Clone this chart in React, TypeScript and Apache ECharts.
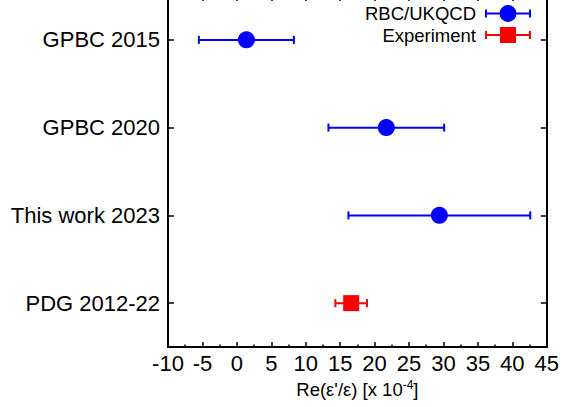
import React, { useEffect, useRef } from "react";
import * as echarts from "echarts";

const categories = ["GPBC 2015", "GPBC 2020", "This work 2023", "PDG 2012-22"];
const rbcCategoryIndex = [0, 1, 2];
const rbcValues = [1.38, 21.7, 29.4];
const rbcErrors = [6.9, 8.4, 13.2];
const expCategoryIndex = [3];
const expValues = [16.6];
const expErrors = [2.3];
const xTicks = { min: -10, max: 45, step: 5 };

const FONT = "'Liberation Sans', Arial, Helvetica, sans-serif";
const SHIFT = 10;

const rbcIcon =
  "path://M0,7.5H46V9.5H0Z M0,4.5H2V12.5H0Z M44,4.5H46V12.5H44Z M14.5,8.5A8.5,8.5 0 1,1 31.5,8.5A8.5,8.5 0 1,1 14.5,8.5Z";
const expIcon =
  "path://M0,7.5H46V9.5H0Z M0,4.5H2V12.5H0Z M44,4.5H46V12.5H44Z M15,0.5H31V16.5H15Z M0,0H0.01V17H0Z";

function makeRender(kind: "circle" | "square") {
  return (params: any, api: any) => {
    const v = api.value(0);
    const y = api.value(1);
    const lo = api.value(2);
    const hi = api.value(3);
    const c = api.coord([v, y]);
    const l = api.coord([lo, y]);
    const h = api.coord([hi, y]);
    const color = api.visual("color");
    const cap = 4;
    const ls = { stroke: color, lineWidth: 2 };
    const marker =
      kind === "circle"
        ? { type: "circle", shape: { cx: c[0], cy: c[1], r: 8.5 }, style: { fill: color } }
        : { type: "rect", shape: { x: c[0] - 8, y: c[1] - 8, width: 16, height: 16 }, style: { fill: color } };
    return {
      type: "group",
      children: [
        { type: "line", shape: { x1: l[0], y1: l[1], x2: h[0], y2: h[1] }, style: ls },
        { type: "line", shape: { x1: l[0], y1: l[1] - cap, x2: l[0], y2: l[1] + cap }, style: ls },
        { type: "line", shape: { x1: h[0], y1: h[1] - cap, x2: h[0], y2: h[1] + cap }, style: ls },
        marker,
      ],
    };
  };
}

export default function App() {
  const ref = useRef<HTMLDivElement>(null);
  useEffect(() => {
    if (!ref.current) return;
    const chart = echarts.init(ref.current, null, { renderer: "svg" });
    const rbcData = rbcValues.map((v, i) => [v, rbcCategoryIndex[i], v - rbcErrors[i], v + rbcErrors[i]]);
    const expData = expValues.map((v, i) => [v, expCategoryIndex[i], v - expErrors[i], v + expErrors[i]]);
    const axisLine = { show: true, onZero: false, lineStyle: { color: "#000", width: 2 } };
    const xCommon = {
      type: "value",
      min: xTicks.min,
      max: xTicks.max,
      interval: xTicks.step,
      axisLine,
      axisTick: { show: true, inside: true, length: 5, lineStyle: { color: "#000", width: 1.5 } },
      minorTick: { show: true, splitNumber: 2, length: 2.5, lineStyle: { color: "#000", width: 1.5 } },
      splitLine: { show: false },
    };
    const yCommon = {
      type: "category",
      data: categories,
      inverse: true,
      axisLine,
      axisTick: { show: true, inside: true, alignWithLabel: true, length: 6, lineStyle: { color: "#000", width: 1.5 } },
      splitLine: { show: false },
    };
    chart.setOption({
      animation: false,
      backgroundColor: "#fff",
      textStyle: { fontFamily: FONT },
      grid: { left: 168, right: 15, top: SHIFT - 4, bottom: 60, containLabel: false },
      legend: {
        orient: "vertical",
        align: "right",
        right: 31,
        top: SHIFT + 4,
        padding: 0,
        itemWidth: 46,
        itemHeight: 17,
        itemGap: 2.5,
        textStyle: { fontSize: 18.5, color: "#000", fontFamily: FONT, padding: [0, 4, 0, 0] },
        data: [
          { name: "RBC/UKQCD", icon: rbcIcon },
          { name: "Experiment", icon: expIcon },
        ],
      },
      xAxis: [
        {
          ...xCommon,
          position: "bottom",
          axisLabel: { show: true, fontSize: 22, color: "#000", margin: 5, fontFamily: FONT },
          name: "Re(ε'/ε) [x 10{sup|-4}]",
          nameLocation: "middle",
          nameGap: 30,
          nameTextStyle: {
            fontSize: 18.5,
            color: "#000",
            fontFamily: FONT,
            rich: { sup: { fontSize: 12, color: "#000", fontFamily: FONT, padding: [0, 0, 10, 0] } },
          },
        },
        { ...xCommon, position: "top", axisLabel: { show: false } },
      ],
      yAxis: [
        {
          ...yCommon,
          position: "left",
          axisLabel: { show: true, fontSize: 22, color: "#000", margin: 8, fontFamily: FONT },
        },
        { ...yCommon, position: "right", axisLabel: { show: false } },
      ],
      series: [
        {
          name: "RBC/UKQCD",
          type: "custom",
          renderItem: makeRender("circle"),
          itemStyle: { color: "#0000ff" },
          encode: { x: [0, 2, 3], y: 1 },
          data: rbcData,
          xAxisIndex: 0,
          yAxisIndex: 0,
        },
        {
          name: "Experiment",
          type: "custom",
          renderItem: makeRender("square"),
          itemStyle: { color: "#ff0000" },
          encode: { x: [0, 2, 3], y: 1 },
          data: expData,
          xAxisIndex: 0,
          yAxisIndex: 0,
        },
      ],
    });
    return () => chart.dispose();
  }, []);
  return (
    <div
      ref={ref}
      style={{ position: "fixed", left: 0, top: -SHIFT, width: 562, height: 407 + SHIFT }}
    />
  );
}
